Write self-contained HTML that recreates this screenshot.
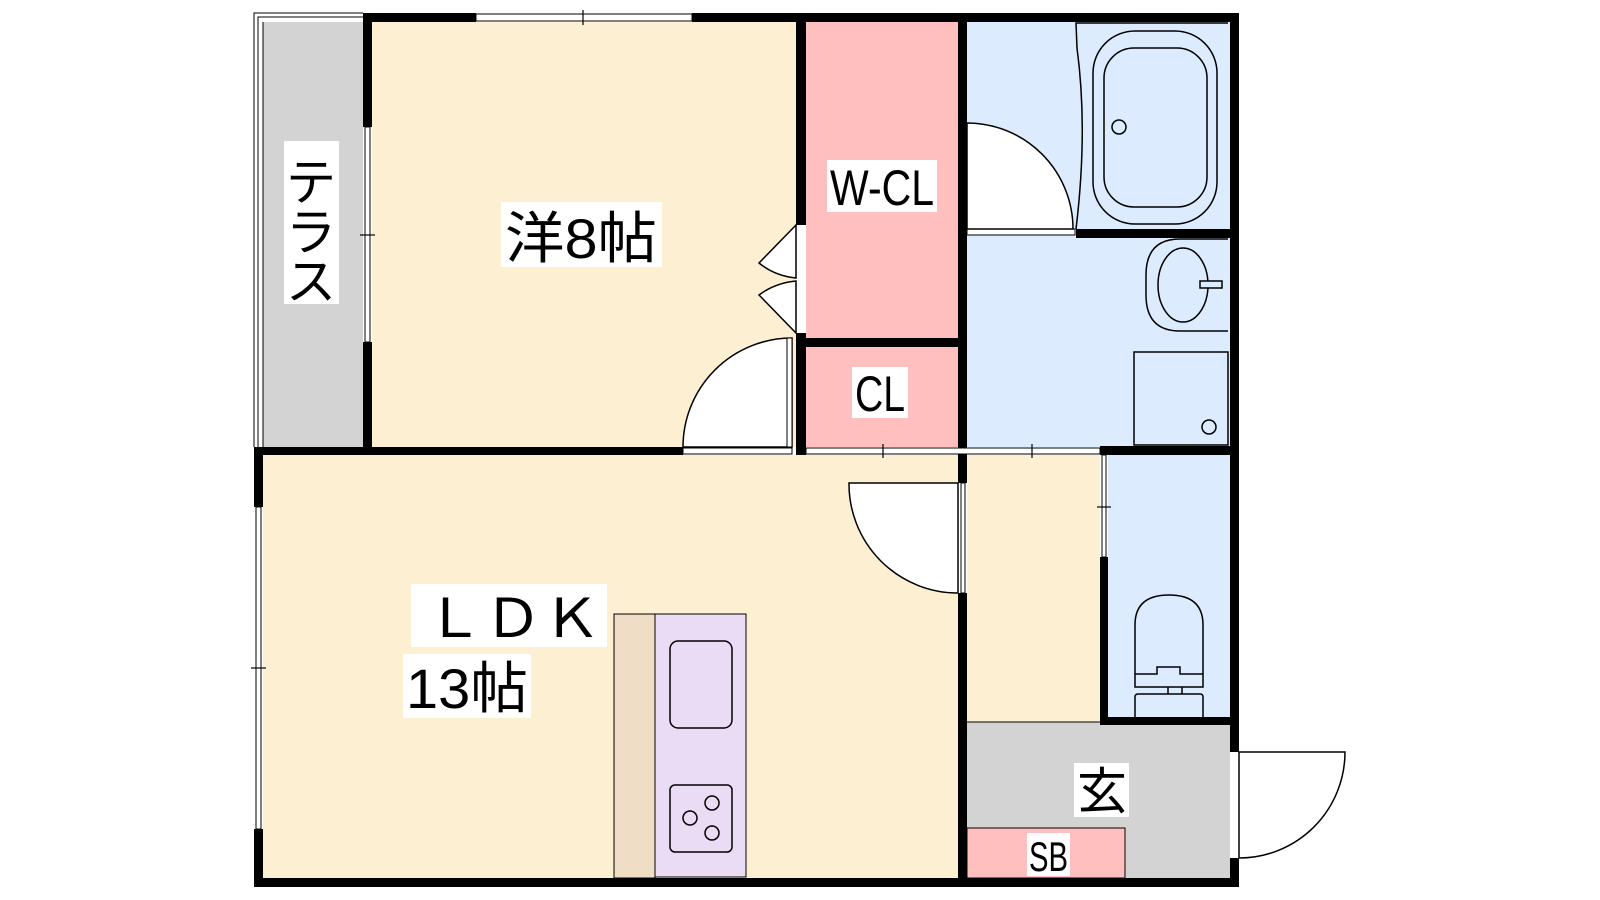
<!DOCTYPE html>
<html><head><meta charset="utf-8"><style>html,body{margin:0;padding:0;background:#fff;width:1600px;height:900px;overflow:hidden}</style></head>
<body>
<svg width="1600" height="900" viewBox="0 0 1600 900" xmlns="http://www.w3.org/2000/svg" font-family="'Liberation Sans','Noto Sans CJK JP',sans-serif">
<!-- fills -->
<rect x="263" y="22" width="100" height="425" fill="#d3d3d3"/>
<rect x="372" y="22" width="424" height="425" fill="#fdf0d2"/>
<rect x="806" y="22" width="152" height="316" fill="#ffbfbf"/>
<rect x="806" y="347" width="152" height="100" fill="#ffbfbf"/>
<rect x="967" y="22" width="263" height="425" fill="#dcebfd"/>
<rect x="263" y="455" width="695" height="423" fill="#fdf0d2"/>
<rect x="967" y="455" width="133" height="267" fill="#fdf0d2"/>
<rect x="1108" y="455" width="122" height="262" fill="#dcebfd"/>
<rect x="967" y="722" width="263" height="156" fill="#d3d3d3"/>
<rect x="967" y="828" width="158" height="50" fill="#ffbfbf" stroke="#000" stroke-width="1"/>
<line x1="967" y1="722" x2="1100" y2="722" stroke="#000" stroke-width="1"/>
<!-- terrace frame -->
<path d="M254 447 V13 H363 M258 447 V17 H363 M263 447 V22" fill="none" stroke="#000" stroke-width="1"/>
<!-- walls -->
<g fill="#000">
<rect x="363" y="13" width="113" height="9"/>
<rect x="692" y="13" width="547" height="9"/>
<rect x="363" y="13" width="9" height="114"/>
<rect x="363" y="342" width="9" height="113"/>
<rect x="254" y="447" width="429" height="8"/>
<rect x="796" y="13" width="10" height="212"/>
<rect x="796" y="333" width="10" height="122"/>
<rect x="806" y="338" width="152" height="9"/>
<rect x="958" y="13" width="9" height="470"/>
<rect x="958" y="593" width="9" height="294"/>
<rect x="1076" y="229" width="163" height="9"/>
<rect x="1230" y="13" width="9" height="739"/>
<rect x="1230" y="858" width="9" height="29"/>
<rect x="1100" y="446" width="139" height="9"/>
<rect x="1100" y="557" width="8" height="168"/>
<rect x="1100" y="717" width="139" height="8"/>
<rect x="254" y="447" width="9" height="60"/>
<rect x="254" y="829" width="9" height="58"/>
<rect x="254" y="878" width="985" height="9"/>
</g>
<!-- windows -->
<g fill="#fff" stroke="#000" stroke-width="1">
<rect x="476" y="14" width="216" height="7"/>
<rect x="365" y="127" width="5" height="215"/>
<rect x="256" y="507" width="5" height="322"/>
<rect x="806" y="448" width="294" height="6"/>
<rect x="1102" y="455" width="4" height="102"/>
<rect x="683" y="448" width="109" height="6"/>
<rect x="967" y="229" width="108" height="6"/>
</g>
<g stroke="#000" stroke-width="1.2">
<line x1="583" y1="10" x2="583" y2="25"/><line x1="360" y1="235" x2="375" y2="235"/>
<line x1="251" y1="668" x2="266" y2="668"/><line x1="883" y1="444" x2="883" y2="458"/>
<line x1="1032" y1="444" x2="1032" y2="458"/><line x1="1097" y1="507" x2="1111" y2="507"/>
</g>
<!-- doors -->
<g fill="#fff" stroke="#000" stroke-width="1.5">
<path d="M683 447 A109 109 0 0 1 792 338 V447 Z"/>
<path d="M967 123 A106 106 0 0 1 1073 229 H967 Z"/>
<path d="M849 483 H958 V593 A109 109 0 0 1 849 483 Z"/>
<path d="M1239 752 H1345 A106 106 0 0 1 1239 858 Z"/>
<path d="M796 225 L759 263 Q775 276 796 278 Z"/>
<path d="M796 281 Q775 283 759 295 L796 333 Z"/>
</g>
<rect x="787" y="338" width="5" height="109" fill="#fff" stroke="#000" stroke-width="1"/>
<rect x="961" y="483" width="4" height="110" fill="#fff" stroke="#000" stroke-width="1"/>
<!-- bath -->
<g fill="none" stroke="#000" stroke-width="1.5">
<path d="M1228 23 H1076 L1077 48 Q1088 130 1076 229"/>
<rect x="1093" y="31" width="124" height="193" rx="42"/>
<rect x="1104" y="48" width="103" height="159" rx="30"/>
<circle cx="1119" cy="127" r="7"/>
<path d="M1228 239 H1180 Q1146 239 1146 275 V295 Q1146 331 1180 331 H1228"/>
<ellipse cx="1183" cy="285" rx="25" ry="37"/>
<rect x="1200" y="281" width="22" height="7" fill="#dcebfd"/>
<rect x="1134" y="352" width="94" height="93"/>
<circle cx="1209" cy="427" r="7"/>
<!-- toilet -->
<path d="M1135 674 V625 Q1135 595 1169 595 Q1203 595 1203 625 V674"/>
<path d="M1135 674 H1157 V667 H1180 V674 H1203 V687 H1135 Z"/>
<line x1="1168" y1="687" x2="1168" y2="694"/><line x1="1182" y1="687" x2="1182" y2="694"/>
<path d="M1135 717 V697 Q1135 694 1138 694 H1200 Q1203 694 1203 697 V717"/>
</g>
<!-- kitchen -->
<rect x="614" y="614" width="41" height="264" fill="#efdec5" stroke="#000" stroke-width="1"/>
<rect x="655" y="614" width="91" height="263" fill="#ebdcf5" stroke="#000" stroke-width="1"/>
<g fill="none" stroke="#000" stroke-width="1.5">
<rect x="670" y="641" width="62" height="87" rx="8"/>
<rect x="670" y="785" width="62" height="67" rx="5"/>
<circle cx="690" cy="818" r="7"/><circle cx="712" cy="803" r="7"/><circle cx="712" cy="833" r="7"/>
</g>
<!-- labels -->
<g fill="#fff">
<rect x="284" y="141" width="55" height="163"/>
<rect x="501" y="202" width="161" height="65"/>
<rect x="827" y="160" width="110" height="52"/>
<rect x="852" y="367" width="56" height="51"/>
<rect x="411" y="584" width="196" height="63"/>
<rect x="403" y="654" width="128" height="64"/>
<rect x="1074" y="763" width="55" height="54"/>
<rect x="1027" y="833" width="43" height="43"/>
</g>
<g fill="#000">
<text x="311" y="200" font-size="50" text-anchor="middle">テ</text>
<text x="311" y="250" font-size="50" text-anchor="middle">ラ</text>
<text x="311" y="299" font-size="50" text-anchor="middle">ス</text>
<text x="505" y="258" font-size="56" textLength="152" lengthAdjust="spacingAndGlyphs">洋8帖</text>
<text x="830" y="205" font-size="50" textLength="104" lengthAdjust="spacingAndGlyphs">W-CL</text>
<text x="855" y="411" font-size="50" textLength="50" lengthAdjust="spacingAndGlyphs">CL</text>
<text x="425" y="637" font-size="54" textLength="176" lengthAdjust="spacingAndGlyphs">ＬＤＫ</text>
<text x="406" y="708" font-size="56" textLength="122" lengthAdjust="spacingAndGlyphs">13帖</text>
<text x="1077" y="809" font-size="50" textLength="50" lengthAdjust="spacingAndGlyphs">玄</text>
<text x="1029" y="871" font-size="42" textLength="39" lengthAdjust="spacingAndGlyphs">SB</text>
</g>
</svg>
</body></html>
